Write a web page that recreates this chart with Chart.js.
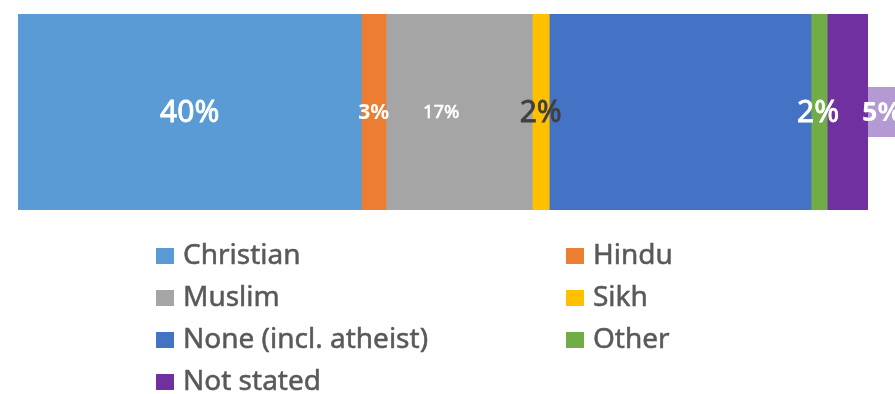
<!DOCTYPE html>
<html>
<head>
<meta charset="utf-8">
<script src="https://cdn.jsdelivr.net/npm/chart.js@4/dist/chart.umd.min.js"></script>
<style>
html,body{margin:0;padding:0;background:#fff;}
#wrap{position:relative;width:895px;height:394px;overflow:hidden;}
</style>
</head>
<body>
<div id="wrap"><canvas id="c" width="895" height="394"></canvas></div>
<script>
// ---- data ----
const categories = ["Religion"];
const seriesNames = ["Christian", "Hindu", "Muslim", "Sikh", "None (incl. atheist)", "Other", "Not stated"];
const christian = [40.4];
const hindu = [2.9];
const muslim = [17.2];
const sikh = [2.0];
const noneAtheist = [30.8];
const other = [1.9];
const notStated = [4.8];
const seriesValues = [christian, hindu, muslim, sikh, noneAtheist, other, notStated];

// ---- styles ----
const colors = ["#5B9BD5", "#ED7D31", "#A5A5A5", "#FFC000", "#4472C4", "#70AD47", "#7030A0"];
const FONT = "'Noto Sans', 'DejaVu Sans', sans-serif";
const labelStyles = [
  {show:true, color:"#fff", size:30, weight:"normal", dx:0, stroke:0.8},
  {show:true, color:"#fff", size:21, weight:"bold", dx:0, stroke:0},
  {show:true, color:"#fff", size:18.5, weight:"normal", dx:-18, stroke:0.6},
  {show:true, color:"#404040", size:30, weight:"normal", dx:0, stroke:0.8},
  {show:false},
  {show:true, color:"#fff", size:30, weight:"normal", dx:-1, stroke:0.8},
  {show:true, color:"#fff", size:27, weight:"bold", outside:true, box:"#B39AD3", stroke:0}
];

const labelPlugin = {
  id: "segLabels",
  afterDatasetsDraw(chart) {
    const ctx = chart.ctx;
    chart.data.datasets.forEach((ds, i) => {
      const st = labelStyles[i];
      if (!st.show) return;
      const el = chart.getDatasetMeta(i).data[0];
      const txt = Math.round(ds.data[0]) + "%";
      ctx.save();
      ctx.font = st.weight + " " + st.size + "px " + FONT;
      ctx.textBaseline = "middle";
      let tx, ty = el.y + 1;
      if (st.outside) {
        ctx.fillStyle = st.box;
        ctx.fillRect(el.x, el.y - 25, 60, 50);
        ctx.textAlign = "left";
        tx = el.x - 6;
      } else {
        ctx.textAlign = "center";
        tx = (el.x + el.base) / 2 + st.dx;
      }
      ctx.fillStyle = st.color;
      ctx.fillText(txt, tx, ty);
      if (st.stroke) {
        ctx.strokeStyle = st.color;
        ctx.lineWidth = st.stroke;
        ctx.strokeText(txt, tx, ty);
      }
      ctx.restore();
    });
  }
};

const legendPlugin = {
  id: "twoColLegend",
  afterDraw(chart) {
    const ctx = chart.ctx;
    const colX = [156, 566];
    const rowY0 = 256, rowGap = 42;
    ctx.save();
    ctx.font = "28px " + FONT;
    ctx.textBaseline = "middle";
    ctx.textAlign = "left";
    chart.data.datasets.forEach((ds, i) => {
      const col = i % 2, row = Math.floor(i / 2);
      const x = colX[col], y = rowY0 + row * rowGap;
      ctx.fillStyle = ds.backgroundColor;
      ctx.fillRect(x, y - 8, 18, 16);
      ctx.fillStyle = "#595959";
      ctx.fillText(ds.label, x + 27, y);
      ctx.strokeStyle = "#595959";
      ctx.lineWidth = 0.5;
      ctx.strokeText(ds.label, x + 27, y);
    });
    ctx.restore();
  }
};

new Chart(document.getElementById("c"), {
  type: "bar",
  data: {
    labels: categories,
    datasets: seriesNames.map((n, i) => ({
      label: n,
      data: seriesValues[i],
      backgroundColor: colors[i],
      borderWidth: 0,
      barPercentage: 1,
      categoryPercentage: 1
    }))
  },
  options: {
    indexAxis: "y",
    responsive: false,
    animation: false,
    layout: { padding: { left: 18, right: 27, top: 14, bottom: 184 } },
    scales: {
      x: { stacked: true, min: 0, max: 100, display: false },
      y: { stacked: true, display: false }
    },
    plugins: { legend: { display: false }, tooltip: { enabled: false } }
  },
  plugins: [labelPlugin, legendPlugin]
});
</script>
</body>
</html>
